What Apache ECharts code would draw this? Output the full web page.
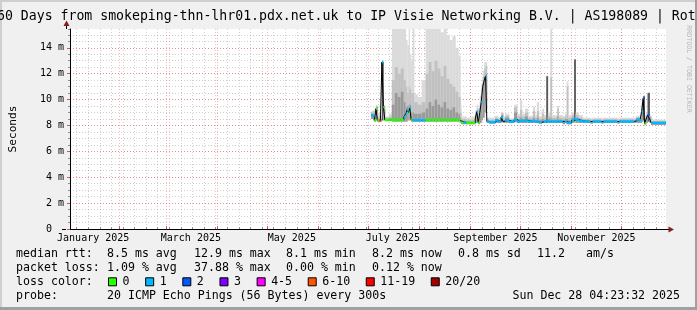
<!DOCTYPE html>
<html>
<head>
<meta charset="utf-8">
<script src="https://cdn.jsdelivr.net/npm/echarts@6/dist/echarts.min.js"></script>
<style>
html,body{margin:0;padding:0;background:#f0f0f0;overflow:hidden}
#chart{width:697px;height:310px}
</style>
</head>
<body>
<div id="chart"></div>
<script>
// ---------------- DATA ----------------
// time: days since 2025-01-02 00:00 UTC (graph covers 360 days up to 2025-12-28)
const sampleDay = [181.8,183.0,183.9,184.8,185.7,186.6,187.5,188.4,189.3,190.2,192.6,
  194.4,196.2,198.0,199.8,201.6,202.8,203.7,204.6,205.2,206.1,207.0,207.9,210.0,212.4,
  214.8,216.6,218.4,220.2,222.0,223.8,225.6,227.4,229.2,231.0,232.8,234.6,235.8,236.4,237.6,239.4,242.4,
  244.8,245.7,246.6,247.5,248.4,249.3,250.2,251.0,251.8,
  253.2,256.8,258.6,260.4,261.6,262.8,265.2,268.2,270.0,271.8,273.0,274.8,276.6,
  279.6,280.8,282.0,283.2,285.0,286.2,287.7,288.6,290.1,291.0,294.3,295.2,297.6,298.8,300.0,300.9,303.0,304.5,305.4,307.2,
  309.6,314.4,315.6,321.0,322.2,330.6,331.8,340.8,342.0,344.4,
  345.3,346.2,347.1,348.0,348.9,350.1,351.0];
// median rtt in ms
const medianMs = [8.8,8.7,8.4,9.3,8.4,8.35,8.4,12.9,9.4,8.42,8.45,
  8.42,8.42,8.45,8.42,8.65,8.9,9.2,9.0,9.35,8.45,8.4,8.4,8.4,8.4,
  8.42,8.42,8.42,8.42,8.42,8.42,8.42,8.42,8.42,8.42,8.42,8.42,8.35,8.2,8.22,8.2,8.2,
  8.5,9.06,8.2,9.0,9.8,11.0,11.5,11.8,8.3,
  8.25,8.4,8.3,8.65,8.3,8.4,8.28,8.45,8.3,8.35,8.35,8.4,8.3,
  8.35,8.3,8.3,8.25,8.3,8.3,8.35,8.3,8.3,8.3,8.3,8.3,8.2,8.3,8.2,8.2,8.4,8.5,8.45,8.35,
  8.3,8.25,8.3,8.25,8.3,8.25,8.3,8.3,8.45,8.4,
  9.06,10.1,8.15,8.5,8.8,8.5,8.2];
// loss class index into lossLabels (-1 = no colour drawn)
const lossClass = [1,1,0,0,0,5,-1,1,0,0,0,
  0,0,0,0,1,1,1,0,1,0,1,1,1,1,
  0,0,0,0,0,0,0,0,0,0,0,0,-1,0,1,0,0,
  -1,1,0,-1,1,-1,-1,1,1,
  1,1,1,1,-1,1,1,1,1,1,1,1,1,
  1,1,1,1,-1,1,1,1,1,1,1,1,-1,1,1,1,1,1,1,1,
  1,-1,1,-1,1,-1,1,-1,1,1,
  1,2,0,-1,2,-1,1];
// smoke bounds (ms): lowest ping, top of dark core, top of mid band, highest ping
const smokeLo = [8.5,8.4,8.3,8.4,8.3,8.3,8.3,8.4,8.4,8.35,8.35,
  8.3,8.3,8.3,8.3,8.3,8.3,8.4,8.4,8.4,8.3,8.3,8.3,8.3,8.3,
  8.3,8.3,8.3,8.3,8.3,8.3,8.3,8.3,8.3,8.3,8.3,8.3,8.2,8.1,8.1,8.1,8.1,
  8.2,8.3,8.1,8.2,8.4,8.6,9.0,9.2,8.2,
  8.15,8.2,8.2,8.25,8.2,8.2,8.2,8.25,8.2,8.2,8.2,8.2,8.2,
  8.2,8.2,8.2,8.15,8.2,8.2,8.2,8.2,8.2,8.2,8.2,8.2,8.1,8.2,8.1,8.1,8.2,8.3,8.2,8.2,
  8.2,8.15,8.2,8.15,8.2,8.15,8.2,8.2,8.2,8.2,
  8.3,8.4,8.1,8.2,8.3,8.2,8.05];
const smokeQ1 = [8.9,8.9,8.6,9.4,8.5,8.5,8.5,12.9,9.3,8.5,8.55,
  9.6,10.5,10.2,10.6,9.8,9.4,9.5,9.6,9.6,9.0,9.0,8.9,8.9,9.0,
  9.3,9.8,9.5,10.0,9.6,9.4,9.8,9.3,9.2,9.4,9.0,8.9,8.6,8.35,8.35,8.3,8.3,
  8.8,9.1,8.5,9.4,10.2,11.2,11.8,12.0,8.4,
  8.35,8.5,8.4,8.8,8.4,8.6,8.35,9.0,8.5,8.6,8.5,8.7,8.45,
  8.6,8.45,8.6,8.4,8.5,8.4,11.8,8.5,8.6,8.45,8.7,8.45,8.4,8.5,8.5,8.4,8.6,13.1,8.6,8.5,
  8.4,8.35,8.4,8.35,8.4,8.35,8.4,8.4,8.55,8.6,
  9.3,10.25,8.4,8.6,10.5,8.6,8.25];
const smokeQ2 = [9.0,9.1,8.9,9.5,8.7,8.7,8.6,12.9,9.5,8.6,8.7,
  11.5,12.5,12.0,12.4,11.5,11.0,10.5,11.0,10.8,10.5,10.5,9.8,9.6,9.8,
  12.0,12.9,12.2,13.0,12.4,11.8,12.6,11.6,11.2,11.0,10.6,10.2,9.0,8.5,8.5,8.45,8.45,
  9.0,9.3,8.8,9.8,10.8,11.8,12.4,12.6,8.5,
  8.45,8.6,8.5,8.95,8.55,8.75,8.45,9.4,8.7,9.2,8.7,9.0,8.6,
  9.1,8.6,9.1,8.55,8.9,8.6,11.8,8.7,11.7,8.6,9.3,8.6,8.55,8.7,11.0,8.6,8.8,13.1,8.8,8.6,
  8.5,8.45,8.5,8.45,8.5,8.45,8.5,8.5,8.65,8.8,
  9.7,10.25,8.6,8.8,10.5,8.7,8.35];
const smokeHi = [9.1,9.2,9.1,9.6,8.9,9.0,8.8,13.0,9.6,8.7,8.9,
  15.45,15.45,15.45,15.45,15.45,14.6,14.2,15.45,13.5,13.0,15.45,10.4,10.2,11.5,
  15.45,15.45,15.45,15.45,15.45,15.2,15.45,15.0,14.6,14.9,14.0,13.4,9.5,8.7,8.7,8.6,8.7,
  9.2,9.6,9.3,10.3,11.2,12.2,12.9,12.9,8.6,
  8.6,8.75,8.6,9.05,8.7,8.9,8.55,9.6,8.9,9.95,8.9,9.3,8.75,
  9.45,8.8,9.8,8.7,9.3,8.8,11.85,9.0,15.45,8.8,9.5,8.8,8.7,8.9,11.4,8.8,9.0,13.15,9.0,8.8,
  8.6,8.55,8.6,8.55,8.6,8.55,8.6,8.6,8.75,9.0,
  10.0,10.3,8.8,9.0,10.6,8.8,8.45];

const lossLabels = ['0','1','2','3','4-5','6-10','11-19','20/20'];
const monthNames = ['January','February','March','April','May','June','July','August','September','October','November','December'];
const rttStatValues = [8.5, 12.9, 8.1, 8.2, 0.8];
const rttStatNames = ['avg','max','min','now','sd'];
const amPerSec = 11.2;
const lossStatValues = [1.09, 37.88, 0.00, 0.12];
const lossStatNames = ['avg','max','min','now'];

// ---------------- STYLE ----------------
const lossColors = ['#26ff00','#00b8ff','#0059ff','#7e00ff','#ff00ff','#ff5500','#ff0000','#a10000'];
const SMOKE_LIGHT = '#dbdbdb', SMOKE_MID = '#c1c1c1', SMOKE_DARK = '#9a9a9a', SMOKE_CORE = '#5a5a5a';
const MONO = '"DejaVu Sans Mono"';
const START_MS = Date.UTC(2025, 0, 2);
const SPAN_DAYS = 360;
const Y_MAX = 15.45;

// ---------------- DERIVED ----------------
const dayCats = [];
for (let i = 0; i <= SPAN_DAYS; i++) dayCats.push(new Date(START_MS + i * 864e5).toISOString().slice(0, 10));
const isMonday = (i) => new Date(START_MS + i * 864e5).getUTCDay() === 1;
const isMonthStart = (i) => dayCats[i].slice(8) === '01';
const isLabelDay = (i) => dayCats[i].slice(8) === '16' && (+dayCats[i].slice(5, 7)) % 2 === 1;

const n = sampleDay.length;
const segEnd = (i) => (i < n - 1 ? sampleDay[i + 1] : SPAN_DAYS);
const smokeData = sampleDay.map((d, i) => [d, segEnd(i), smokeLo[i], smokeQ1[i], smokeQ2[i], smokeHi[i]]);
const colourData = sampleDay.map((d, i) => [d, segEnd(i), medianMs[i], lossClass[i]]);
const medianLine = sampleDay.map((d, i) => [d, medianMs[i]]).concat([[SPAN_DAYS, medianMs[n - 1]]]);

// ---------------- LEGEND GRAPHICS ----------------
const LF = '11.6px ' + MONO;
const CW = 6.96;
const g = [];
function txt(x, y, s, opt) {
  g.push(Object.assign({ type: 'text', x: x, y: y, silent: true,
    style: Object.assign({ text: s, font: LF, fill: '#000', align: 'left', verticalAlign: 'middle' }, opt || {}) }));
}
// frame shading
g.push({ type: 'rect', shape: { x: 0, y: 0, width: 697, height: 2 }, style: { fill: '#cfcfcf' }, silent: true });
g.push({ type: 'rect', shape: { x: 0, y: 0, width: 2, height: 310 }, style: { fill: '#cfcfcf' }, silent: true });
g.push({ type: 'rect', shape: { x: 0, y: 307, width: 697, height: 3 }, style: { fill: '#a0a0a0' }, silent: true });
g.push({ type: 'rect', shape: { x: 695, y: 0, width: 2, height: 310 }, style: { fill: '#a0a0a0' }, silent: true });
// title
txt(-3, 16.5, '60 Days from smokeping-thn-lhr01.pdx.net.uk to IP Visie Networking B.V. | AS198089 | Rot', { font: '13.2px ' + MONO });
// watermark
g.push({ type: 'text', x: 688.5, y: 69, rotation: -Math.PI / 2, silent: true,
  style: { text: 'RRDTOOL / TOBI OETIKER', font: '6.6px ' + MONO, fill: '#b4b4b4', align: 'center', verticalAlign: 'middle' } });
// axis arrows & extensions
g.push({ type: 'line', shape: { x1: 66.5, y1: 29, x2: 66.5, y2: 25 }, style: { stroke: '#000', lineWidth: 1 }, silent: true });
g.push({ type: 'polygon', shape: { points: [[63.5, 26], [69.5, 26], [66.5, 20.5]] }, style: { fill: '#7f1f1f' }, silent: true });
g.push({ type: 'line', shape: { x1: 62, y1: 229.5, x2: 66, y2: 229.5 }, style: { stroke: '#000', lineWidth: 1 }, silent: true });
g.push({ type: 'line', shape: { x1: 666, y1: 229.5, x2: 669, y2: 229.5 }, style: { stroke: '#000', lineWidth: 1 }, silent: true });
g.push({ type: 'polygon', shape: { points: [[668.5, 226.5], [668.5, 232.5], [674, 229.5]] }, style: { fill: '#7f1f1f' }, silent: true });
// legend rows
const R1 = 254.3, R2 = 268.3, R3 = 282.3, R4 = 296.2;
const statX = [107, 194, 286, 372, 458];
txt(16, R1, 'median rtt:');
rttStatValues.forEach((v, i) => txt(statX[i], R1, v.toFixed(1) + ' ms ' + rttStatNames[i]));
txt(537, R1, amPerSec.toFixed(1));
txt(586, R1, 'am/s');
txt(16, R2, 'packet loss:');
lossStatValues.forEach((v, i) => txt(statX[i], R2, v.toFixed(2) + ' % ' + lossStatNames[i]));
txt(16, R3, 'loss color:');
let bx = 108;
lossLabels.forEach((lab, i) => {
  g.push({ type: 'rect', shape: { x: bx + 0.5, y: R3 - 4.5, width: 8, height: 8 },
    style: { fill: lossColors[i], stroke: '#000', lineWidth: 1 }, silent: true });
  txt(bx + 14.5, R3, lab);
  bx = bx + 14.5 + lab.length * CW + 15.7;
});
txt(16, R4, 'probe:');
txt(107, R4, '20 ICMP Echo Pings (56 Bytes) every 300s');
txt(680, R4, 'Sun Dec 28 04:23:32 2025', { align: 'right' });

// ---------------- CHART ----------------
const chart = echarts.init(document.getElementById('chart'), null, { renderer: 'canvas' });
const gridMinor = 'rgba(130,130,130,0.38)';
const gridMajor = 'rgba(255,0,0,0.3)';
chart.setOption({
  animation: false,
  backgroundColor: '#f0f0f0',
  grid: { left: 66, top: 29, width: 600, height: 200, show: true, backgroundColor: '#ffffff', borderWidth: 0 },
  xAxis: [
    { type: 'value', min: 0, max: SPAN_DAYS, show: false },
    { type: 'category', data: dayCats, boundaryGap: false, position: 'bottom',
      axisLine: { show: true, lineStyle: { color: '#000', width: 1 } },
      axisTick: { show: true, interval: (i) => isMonday(i), inside: true, length: 2, lineStyle: { color: '#909090' } },
      axisLabel: { show: true, interval: (i) => isLabelDay(i), margin: 4,
        formatter: (v) => monthNames[+v.slice(5, 7) - 1] + ' ' + v.slice(0, 4),
        color: '#000', fontFamily: MONO, fontSize: 10 },
      splitLine: { show: true, interval: (i) => isMonday(i), lineStyle: { color: gridMinor, type: [1, 2], width: 1 } } },
    { type: 'category', data: dayCats, boundaryGap: false, position: 'bottom',
      axisLine: { show: false }, axisLabel: { show: false },
      axisTick: { show: true, interval: (i) => isMonthStart(i), inside: true, length: 3, lineStyle: { color: '#e05050' } },
      splitLine: { show: true, interval: (i) => isMonthStart(i), lineStyle: { color: gridMajor, type: [1, 2], width: 1 } } }
  ],
  yAxis: [
    { type: 'value', min: 0, max: Y_MAX, interval: 0.5, position: 'left',
      axisLine: { show: false }, axisLabel: { show: false },
      axisTick: { show: true, length: 2, lineStyle: { color: '#909090' } },
      splitLine: { show: true, showMaxLine: false, showMinLine: false, lineStyle: { color: gridMinor, type: [1, 2], width: 1 } } },
    { type: 'value', min: 0, max: Y_MAX, interval: 2, position: 'left',
      axisLine: { show: true, lineStyle: { color: '#000', width: 1 } },
      axisTick: { show: true, length: 3, lineStyle: { color: '#e05050' } },
      axisLabel: { show: true, showMaxLabel: false, margin: 6, color: '#000', fontFamily: MONO, fontSize: 10,
        formatter: (v) => (v === 0 ? '{z|0}' : v + ' m'),
        rich: { z: { fontFamily: MONO, fontSize: 10, color: '#000', padding: [0, 12, 0, 0] } } },
      splitLine: { show: true, showMaxLine: false, showMinLine: false, lineStyle: { color: gridMajor, type: [1, 2], width: 1 } },
      name: 'Seconds', nameLocation: 'middle', nameGap: 51, nameRotate: 90,
      nameTextStyle: { fontFamily: MONO, fontSize: 11.2, color: '#000' } }
  ],
  series: [
    { type: 'custom', name: 'smoke', xAxisIndex: 0, yAxisIndex: 1, clip: true, z: 2,
      data: smokeData, encode: { x: [0, 1], y: [2, 3, 4, 5] },
      renderItem: function (params, api) {
        const x0 = api.value(0), x1 = api.value(1);
        const lo = api.value(2), q1 = api.value(3), q2 = api.value(4), hi = api.value(5);
        const band = (a, b, fill) => {
          const p0 = api.coord([x0, b]), p1 = api.coord([x1, a]);
          return { type: 'rect', shape: { x: p0[0], y: p0[1], width: p1[0] - p0[0] + 0.3, height: p1[1] - p0[1] },
            style: { fill: fill } };
        };
        const core = (q2 - q1) < 0.01 ? SMOKE_CORE : SMOKE_DARK;
        return { type: 'group', children: [band(lo, hi, SMOKE_LIGHT), band(lo, q2, SMOKE_MID), band(lo, q1, core)] };
      } },
    { type: 'line', name: 'median', xAxisIndex: 0, yAxisIndex: 1, z: 3, step: 'end',
      data: medianLine, showSymbol: false, symbol: 'none',
      lineStyle: { color: '#000', width: 1 } },
    { type: 'custom', name: 'loss colour', xAxisIndex: 0, yAxisIndex: 1, clip: true, z: 4,
      data: colourData, encode: { x: [0, 1], y: 2 },
      renderItem: function (params, api) {
        const cls = api.value(3);
        if (cls < 0) return null;
        const p0 = api.coord([api.value(0), api.value(2)]);
        const p1 = api.coord([api.value(1), api.value(2)]);
        return { type: 'line', shape: { x1: p0[0], y1: p0[1], x2: p1[0], y2: p1[1] },
          style: { stroke: lossColors[cls], lineWidth: 2.5 } };
      } }
  ],
  graphic: { elements: g }
});
</script>
</body>
</html>
